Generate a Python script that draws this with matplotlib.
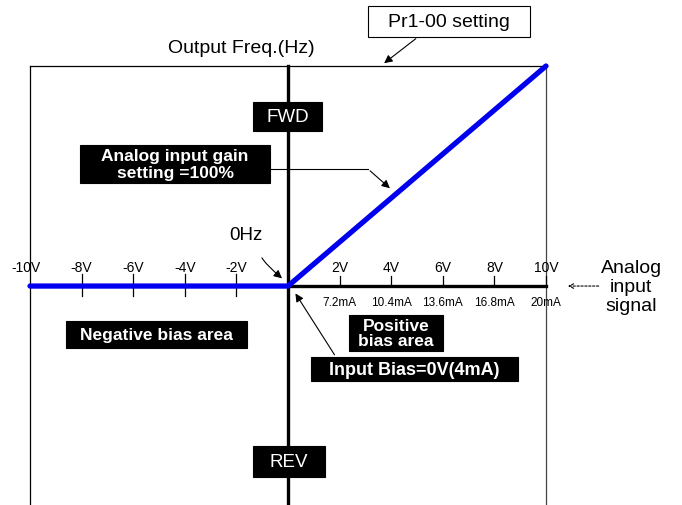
import matplotlib.pyplot as plt
from matplotlib.patches import Rectangle

# analog input (V) vs output frequency (% of Pr1-00)
volts = [-10, 0, 10]
freq = [0, 0, 100]

neg_ticks = [-10, -8, -6, -4, -2]
neg_labels = ["-10V", "-8V", "-6V", "-4V", "-2V"]
pos_ticks = [2, 4, 6, 8, 10]
pos_labels = ["2V", "4V", "6V", "8V", "10V"]
ma_labels = ["7.2mA", "10.4mA", "13.6mA", "16.8mA", "20mA"]

plt.rcParams["font.family"] = ["Liberation Sans", "DejaVu Sans"]

fig = plt.figure(figsize=(6.82, 5.06), dpi=100)
ax = fig.add_axes([0, 0, 1, 1])
ax.set_xlim(-11.163, 15.271)
ax.set_ylim(-99.5, 130.45)
ax.axis("off")


def label_box(x0, x1, y0, y1, text, size, bold=True, ls=1.2, fc="black", tc="white", z=5):
    ax.add_patch(Rectangle((x0, y0), x1 - x0, y1 - y0, fc=fc, ec="black", lw=0.8, zorder=z))
    ax.text((x0 + x1) / 2, (y0 + y1) / 2, text, ha="center", va="center", fontsize=size,
            fontweight="bold" if bold else "normal", color=tc, linespacing=ls, zorder=z + 1)


# frame: top line and two side lines
ax.plot([-10, 10], [100, 100], color="black", lw=0.9)
ax.plot([-10, -10], [100, -99.5], color="black", lw=0.9)
ax.plot([10, 10], [100, -99.5], color="#444444", lw=0.9)

# axes
ax.plot([0, 0], [100, -99.5], color="black", lw=2.4, zorder=3)
ax.plot([0, 10], [0, 0], color="black", lw=2.4, zorder=3)

# ticks
for v in neg_ticks[1:]:
    ax.plot([v, v], [5.5, -4.5], color="black", lw=0.9)
for v in pos_ticks:
    ax.plot([v, v], [4.5, 0], color="black", lw=0.9)

# blue characteristic curve
ax.plot(volts, freq, color="#0000ee", lw=3.8, solid_capstyle="round",
        solid_joinstyle="round", zorder=4)

# tick labels
for v, lab in zip(neg_ticks, neg_labels):
    ax.text(v - 0.15 * (v == -10), 8.8, lab, ha="center", va="center", fontsize=10)
for v, lab in zip(pos_ticks, pos_labels):
    ax.text(v, 8.8, lab, ha="center", va="center", fontsize=10)
for v, lab in zip(pos_ticks, ma_labels):
    ax.text(v, -7.3, lab, ha="center", va="center", fontsize=8.5)

ax.text(-1.8, 108.2, "Output Freq.(Hz)", ha="center", va="center", fontsize=14)

label_box(3.10, 9.38, 113.2, 127.3, "Pr1-00 setting", 14, bold=False, fc="white", tc="black")
ax.annotate("", xy=(3.64, 100.5), xytext=(5.04, 113.2),
            arrowprops=dict(arrowstyle="-|>", color="black", lw=0.8, mutation_scale=12))

label_box(-1.36, 1.32, 70.5, 83.6, "FWD", 13.5, bold=False)
label_box(-1.36, 1.43, -86.8, -72.7, "REV", 13.5, bold=False)

label_box(-8.06, -0.70, 46.8, 64.1, "Analog input gain\nsetting =100%", 12.5, ls=1.15)
ax.plot([-0.7, 3.1], [53.2, 53.2], color="black", lw=0.8, zorder=2)
ax.annotate("", xy=(4.03, 43.6), xytext=(3.1, 53.2),
            arrowprops=dict(arrowstyle="-|>", color="black", lw=0.8, mutation_scale=12))

ax.text(-1.63, 23.5, "0Hz", ha="center", va="center", fontsize=13.5)
ax.annotate("", xy=(-0.15, 2.7), xytext=(-1.05, 14),
            arrowprops=dict(arrowstyle="-|>", color="black", lw=0.8, mutation_scale=12,
                            connectionstyle="angle3,angleA=-80,angleB=-40"))

label_box(-8.60, -1.59, -28.2, -15.9, "Negative bias area", 12.5)
label_box(2.36, 6.01, -29.5, -13.2, "Positive\nbias area", 12.5, ls=1.05)
label_box(0.89, 8.91, -43.2, -32.3, "Input Bias=0V(4mA)", 13)
ax.annotate("", xy=(0.23, -2.3), xytext=(1.86, -32.3),
            arrowprops=dict(arrowstyle="-|>", color="black", lw=0.8, mutation_scale=12))

ax.text(13.3, 0, "Analog\ninput\nsignal", ha="center", va="center",
        fontsize=14, linespacing=1.15)
ax.annotate("", xy=(10.74, 0), xytext=(12.15, 0),
            arrowprops=dict(arrowstyle="->", color="black", lw=0.8,
                            linestyle=(0, (2, 1.5)), mutation_scale=8))

fig.savefig("out.png", dpi=100)
